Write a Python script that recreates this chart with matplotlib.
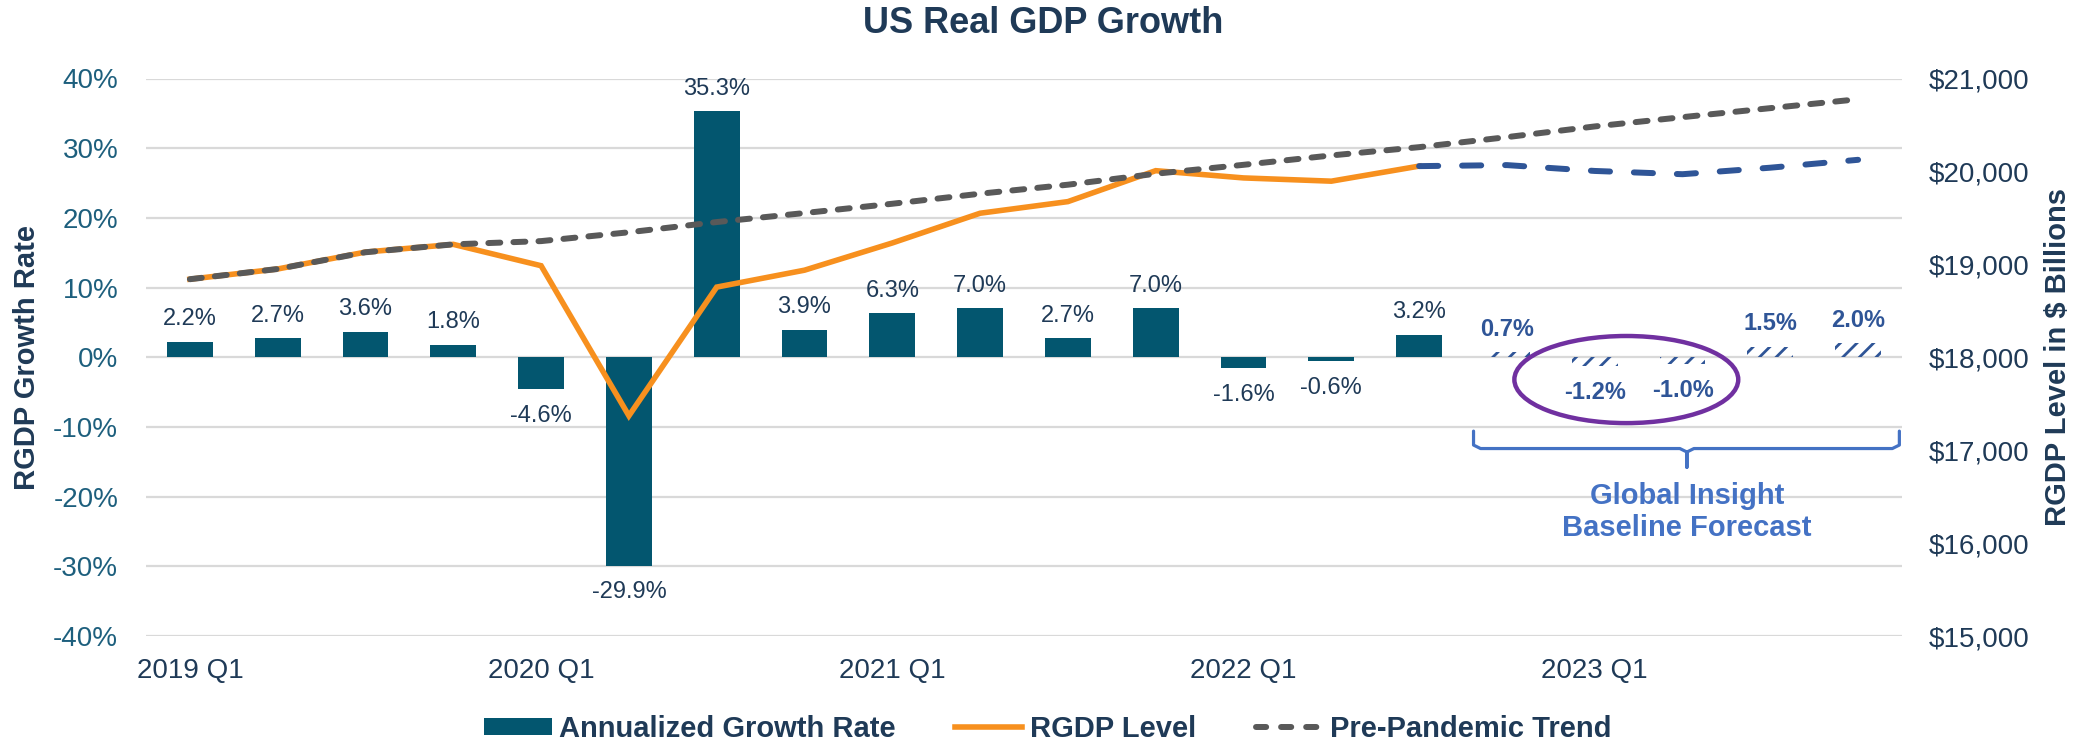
import matplotlib
matplotlib.use("Agg")
import matplotlib.pyplot as plt
from matplotlib.patches import Ellipse, Patch
from matplotlib.lines import Line2D
import numpy as np

# ---------------- data ----------------
quarters = ["2019 Q1", "2019 Q2", "2019 Q3", "2019 Q4",
            "2020 Q1", "2020 Q2", "2020 Q3", "2020 Q4",
            "2021 Q1", "2021 Q2", "2021 Q3", "2021 Q4",
            "2022 Q1", "2022 Q2", "2022 Q3", "2022 Q4",
            "2023 Q1", "2023 Q2", "2023 Q3", "2023 Q4"]
growth_rate = [2.2, 2.7, 3.6, 1.8, -4.6, -29.9, 35.3, 3.9, 6.3, 7.0,
               2.7, 7.0, -1.6, -0.6, 3.2, 0.7, -1.2, -1.0, 1.5, 2.0]
forecast_start = 15  # first forecast quarter (2022 Q4)
rgdp_level = [18840, 18950, 19132, 19215, 18985, 17370, 18755, 18937,
              19230, 19550, 19675, 20008, 19930, 19895, 20057]
rgdp_forecast = [20057, 20068, 20005, 19970, 20040, 20125]   # 2022 Q3 .. 2023 Q4
pre_pandemic_trend = [18840, 18950, 19130, 19215, 19250, 19345, 19455, 19552,
                      19652, 19760, 19857, 19975, 20071, 20172, 20261, 20369,
                      20484, 20584, 20681, 20777]
xtick_labels = ["2019 Q1", "2020 Q1", "2021 Q1", "2022 Q1", "2023 Q1"]
left_ticks = [-40, -30, -20, -10, 0, 10, 20, 30, 40]
right_ticks = [15000, 16000, 17000, 18000, 19000, 20000, 21000]

# ---------------- style ----------------
BAR = "#03566F"
NAVY = "#1F3A57"
TEAL_TXT = "#1D5F7D"
ORANGE = "#F7901E"
GRAY = "#595959"
FC_BLUE = "#2F5597"
PURPLE = "#7030A0"
BRACKET = "#4472C4"
GRID = "#D9D9D9"

plt.rcParams["font.family"] = ["Liberation Sans", "DejaVu Sans"]
plt.rcParams["hatch.linewidth"] = 2.0

W, H = 2085, 742
fig = plt.figure(figsize=(W / 100, H / 100), dpi=100)
ax = fig.add_axes([146 / W, 1 - 636 / H, (1902 - 146) / W, (636 - 78.5) / H])

x = np.arange(len(quarters))
xlabels_pos = [quarters.index(q) for q in xtick_labels]

# bars
for i, v in enumerate(growth_rate):
    if i < forecast_start:
        ax.bar(x[i], v, width=0.52, color=BAR, zorder=2)
    else:
        ax.bar(x[i], v, width=0.52, facecolor="none", edgecolor=FC_BLUE,
               hatch="//", linewidth=0, zorder=2)

# bar labels
for i, v in enumerate(growth_rate):
    fc = i >= forecast_start
    kw = dict(ha="center", fontsize=17, color=FC_BLUE if fc else NAVY,
              fontweight="bold" if fc else "normal", textcoords="offset points",
              zorder=5)
    if v >= 0:
        ax.annotate(f"{v:.1f}%", (x[i], v), xytext=(0, 12), va="baseline", **kw)
    else:
        ax.annotate(f"{v:.1f}%", (x[i], v), xytext=(0, -11), va="top", **kw)

ax.set_xlim(-0.5, len(quarters) - 0.5)
ax.set_ylim(-40, 40)
ax.set_yticks(left_ticks)
ax.set_yticklabels([f"{t}%" for t in left_ticks])
ax.set_xticks(xlabels_pos)
ax.set_xticklabels(xtick_labels)
ax.yaxis.grid(True, color=GRID, linewidth=1.6)
ax.set_axisbelow(True)
ax.tick_params(axis="y", length=0, pad=20, labelsize=20, labelcolor=TEAL_TXT)
ax.tick_params(axis="x", length=0, pad=16, labelsize=20, labelcolor=NAVY)
for s in ax.spines.values():
    s.set_visible(False)

# secondary axis
ax2 = ax.twinx()
ax2.set_ylim(15000, 21000)
ax2.set_yticks(right_ticks)
ax2.set_yticklabels([f"${t:,}" for t in right_ticks])
ax2.tick_params(axis="y", length=0, pad=19, labelsize=20, labelcolor=NAVY)
for s in ax2.spines.values():
    s.set_visible(False)

ax2.plot(x[:len(rgdp_level)], rgdp_level, color=ORANGE, lw=4.0, zorder=3,
         solid_joinstyle="miter")
ax2.plot(x[len(rgdp_level) - 1:], rgdp_forecast, color=FC_BLUE, lw=4.3,
         dashes=(3.2, 4.0), dash_capstyle="round", zorder=3)
ax2.plot(x, pre_pandemic_trend, color=GRAY, lw=4.3, dashes=(2.0, 2.2),
         dash_capstyle="round", zorder=4)

# purple ellipse around the negative forecast quarters
ell = Ellipse((16.36, -3.2), width=2.55, height=12.5, transform=ax.transData,
              fill=False, edgecolor=PURPLE, lw=3.2, zorder=6)
ax2.add_patch(ell)

# bracket under forecast
xl, xr, xc = 14.62, 19.47, 17.05
ytop, ymid, ytip = -10.6, -13.1, -15.8
bx = [xl, xl, xl + 0.08, xc - 0.08, xc, xc, xc, xc + 0.08, xr - 0.08, xr, xr]
by = [ytop, ymid + 0.5, ymid, ymid, ymid - 0.5, ytip, ymid - 0.5, ymid, ymid, ymid + 0.5, ytop]
ax2.plot(bx, by, color=BRACKET, lw=2.3, transform=ax.transData, clip_on=False,
         zorder=6, solid_joinstyle="round", solid_capstyle="round")
ax2.text(xc, -22.2, "Global Insight\nBaseline Forecast", transform=ax.transData,
         ha="center", va="center", fontsize=21, fontweight="bold",
         color=BRACKET, linespacing=1.2, zorder=6)

# titles / labels
fig.text(0.5005, 1 - 23.5 / H, "US Real GDP Growth", ha="center", va="center",
         fontsize=26, fontweight="bold", color=NAVY)
fig.text(27 / W, 1 - 357 / H, "RGDP Growth Rate", rotation=90, ha="center",
         va="center", fontsize=21, fontweight="bold", color=NAVY)
fig.text(2058 / W, 1 - 357 / H, "RGDP Level in $ Billions", rotation=90,
         ha="center", va="center", fontsize=21, fontweight="bold", color=NAVY)

# legend
handles = [Patch(facecolor=BAR, edgecolor="none"),
           Line2D([], [], color=ORANGE, lw=4.0),
           Line2D([], [], color=GRAY, lw=4.3, dashes=(1.7, 2.5),
                  dash_capstyle="round")]
labels = ["Annualized Growth Rate", "RGDP Level", "Pre-Pandemic Trend"]
fig.legend(handles, labels, loc="center", bbox_to_anchor=(1048 / W, 1 - 729 / H),
           ncol=3, frameon=False, prop={"size": 21, "weight": "bold"},
           labelcolor=NAVY, handlelength=2.3, handletextpad=0.25,
           columnspacing=2.05, borderpad=0, handleheight=0.55)

fig.savefig("out.png", dpi=100)
